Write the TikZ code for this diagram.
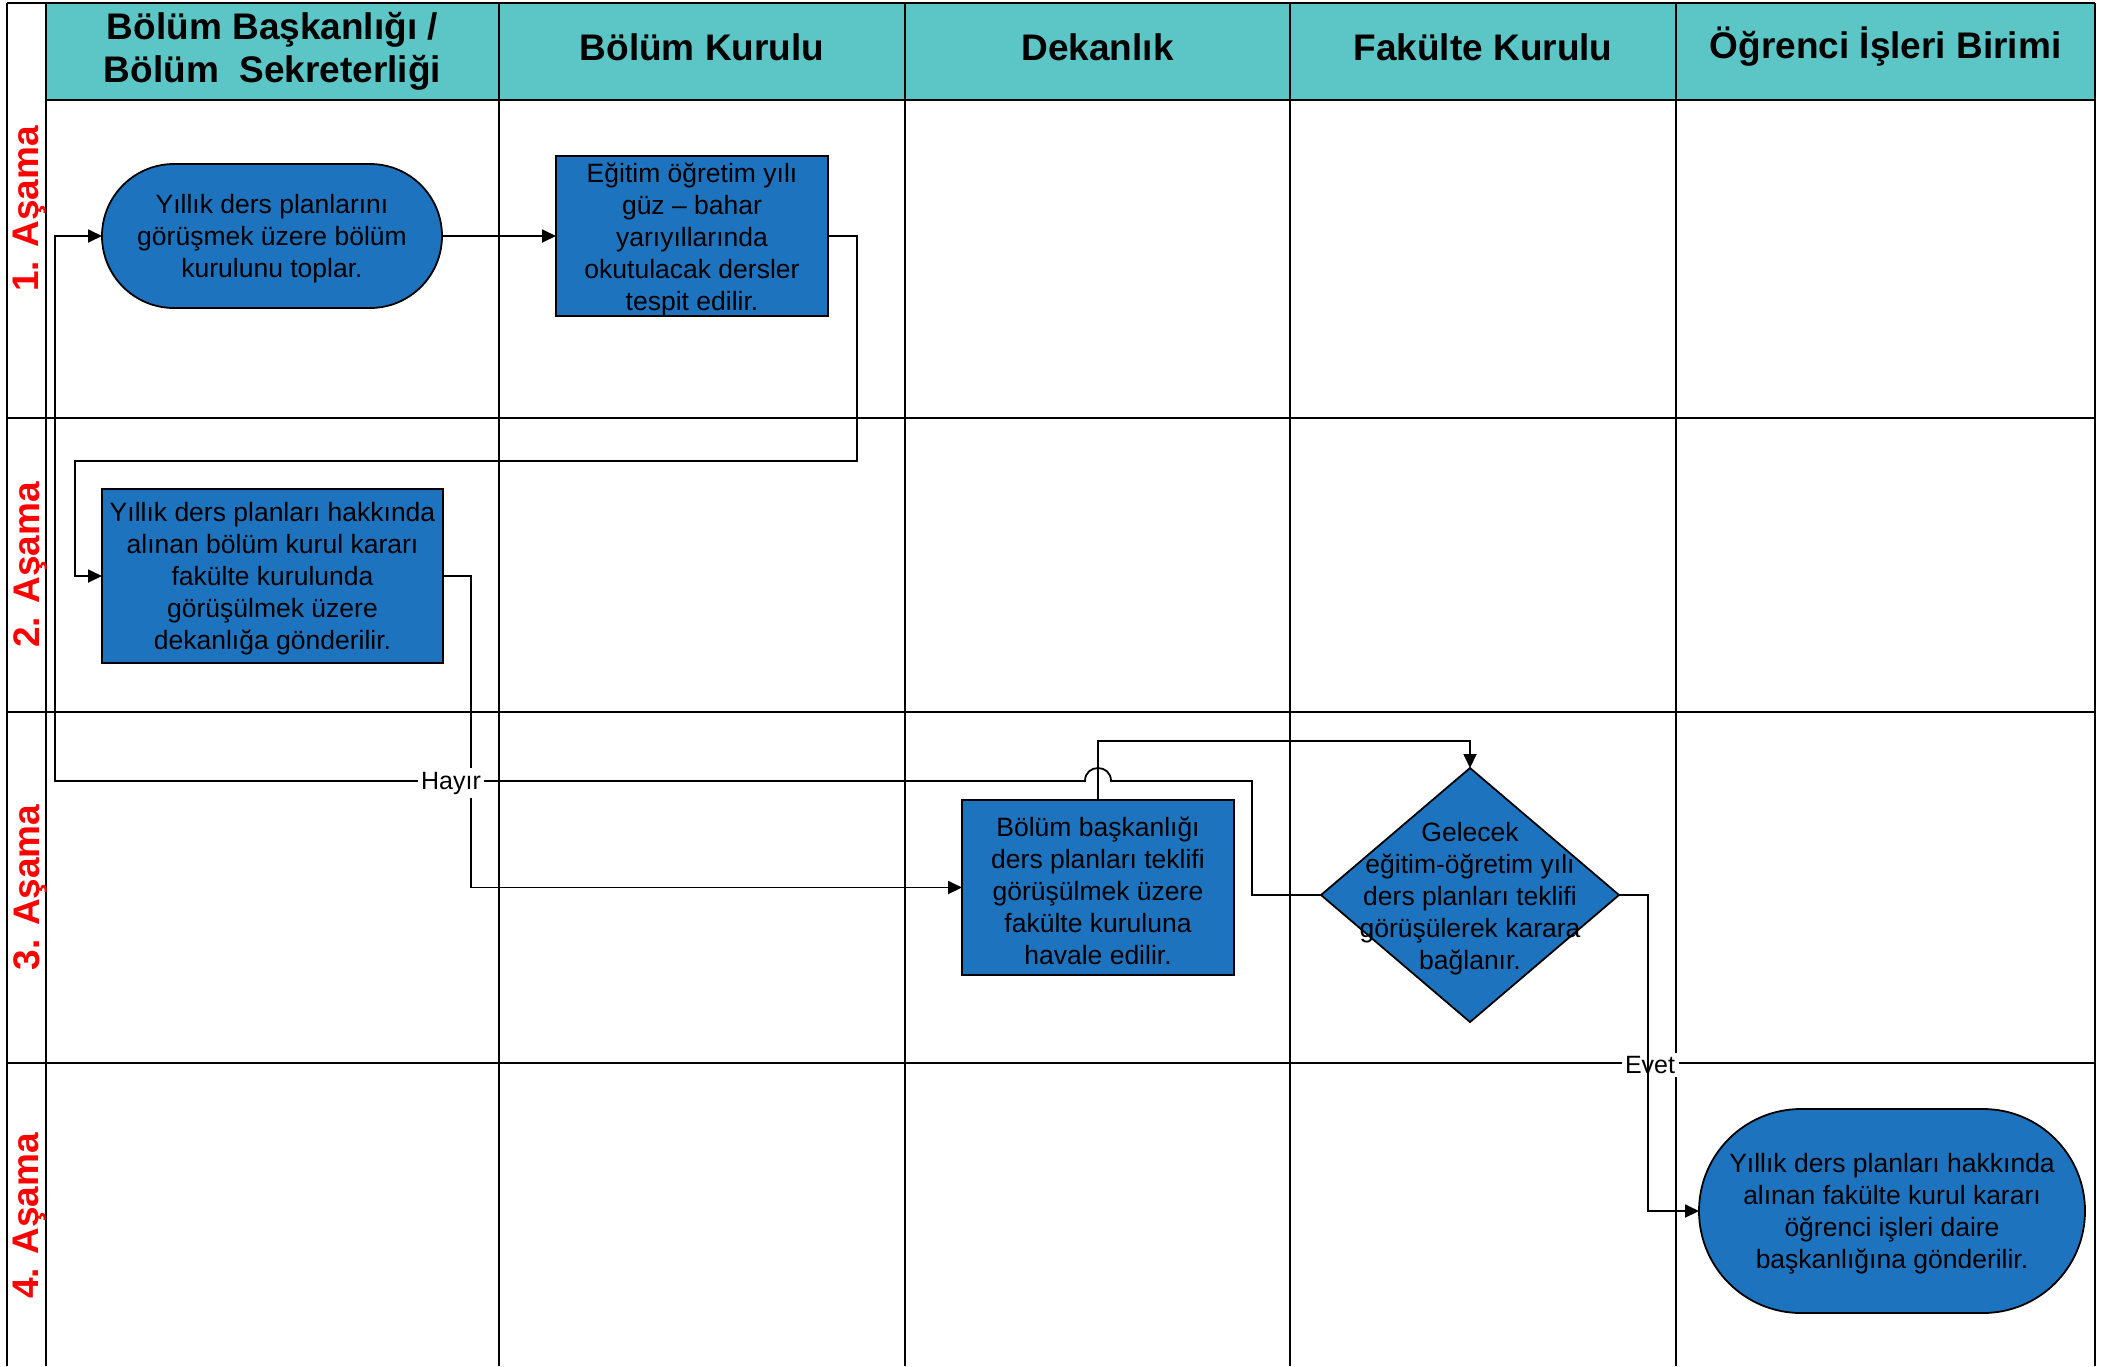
\documentclass[tikz,border=0pt]{standalone}
\usepackage{fontspec}
\setmainfont{Liberation Sans}
\usetikzlibrary{shapes.geometric,arrows.meta}

\definecolor{procblue}{RGB}{30,115,190}
\definecolor{headteal}{RGB}{92,197,198}
\definecolor{stagered}{RGB}{255,0,0}

\begin{document}
\begin{tikzpicture}[x=1pt,y=-1pt,
  gridline/.style={line width=2pt, black},
  head/.style={font=\bfseries\fontsize{37}{43}\selectfont, align=center},
  stage/.style={font=\bfseries\fontsize{37}{43}\selectfont, text=stagered, rotate=90},
  body/.style={font=\fontsize{26.5}{32}\selectfont, align=center},
  boxtext/.style={label={[body, yshift=-3pt]center:{#1}}},
  procbox/.style={draw=black, line width=1.8pt, fill=procblue, inner sep=0pt, outer sep=0pt},
  decision/.style={diamond, draw=black, line width=1.8pt, fill=procblue, inner sep=0pt, outer sep=0pt},
  conn/.style={line width=1.8pt, -{Triangle[length=14pt,width=13pt]}},
  flowlabel/.style={font=\fontsize{25}{30}\selectfont, fill=white, inner sep=3.5pt}
]
\useasboundingbox (0,0) rectangle (2111,1366);
\fill[white] (0,0) rectangle (2111,1366);

% header band
\fill[headteal] (46,3) rectangle (2095,100);

% swimlane grid
\draw[gridline] (7,3) -- (2095,3);
\draw[gridline] (46,100) -- (2095,100);
\foreach \yy in {418,712,1063} \draw[gridline] (7,\yy) -- (2095,\yy);
\foreach \xx in {7,46,499,905,1290,1676,2095} \draw[gridline] (\xx,3) -- (\xx,1366);

% column headers
\node[head] (h1) at (272.5,51.5) {Bölüm Başkanlığı /\\Bölüm\ \ Sekreterliği};
\node[head] (h2) at (702,47) {Bölüm Kurulu};
\node[head] (h3) at (1097.5,47) {Dekanlık};
\node[head] (h4) at (1483,47) {Fakülte Kurulu};
\node[head] (h5) at (1885.5,47) {Öğrenci İşleri Birimi};

% stage labels
\node[stage] (s1) at (30,209) {1. Aşama};
\node[stage] (s2) at (30,565) {2. Aşama};
\node[stage] (s3) at (30,887.5) {3. Aşama};
\node[stage] (s4) at (30,1216) {4. Aşama};

% process steps
\node[procbox, rounded corners=72pt, minimum width=340pt, minimum height=144pt,
  boxtext={Yıllık ders planlarını\\görüşmek üzere bölüm\\kurulunu toplar.}] (t1) at (272,236) {};
\node[procbox, minimum width=272pt, minimum height=160pt,
  boxtext={Eğitim öğretim yılı\\güz – bahar\\yarıyıllarında\\okutulacak dersler\\tespit edilir.}] (b2) at (692,236) {};
\node[procbox, minimum width=341pt, minimum height=174pt,
  boxtext={Yıllık ders planları hakkında\\alınan bölüm kurul kararı\\fakülte kurulunda\\görüşülmek üzere\\dekanlığa gönderilir.}] (b3) at (272.5,576) {};
\node[procbox, minimum width=272pt, minimum height=175pt,
  boxtext={Bölüm başkanlığı\\ders planları teklifi\\görüşülmek üzere\\fakülte kuruluna\\havale edilir.}] (b4) at (1098,887.5) {};
\node[decision, minimum width=298pt, minimum height=254pt] (d1) at (1470,895) {};
\node[body] (d1text) at (1470,899)
  {Gelecek\\eğitim-öğretim yılı\\ders planları teklifi\\görüşülerek karara\\bağlanır.};
\node[procbox, rounded corners=102pt, minimum width=386pt, minimum height=204pt,
  boxtext={Yıllık ders planları hakkında\\alınan fakülte kurul kararı\\öğrenci işleri daire\\başkanlığına gönderilir.}] (t4) at (1892,1211) {};

% label of the "yes" branch sits under its own connector
\node[flowlabel] (evet) at (1650,1065) {Evet};

% connectors
\draw[conn] (t1.east) -- (b2.west);
\draw[conn] (b2.east) -- (857,236) -- (857,461) -- (75,461) |- (b3.west);
\draw[conn] (b3.east) -| (471,887.5) -- (b4.west);
\draw[conn] (b4.north) |- (1470,741) -- (d1.north);
\draw[conn] (d1.west) -- (1252,895) -- (1252,781) -- (1111,781)
  .. controls (1111,763.7) and (1085,763.7) .. (1085,781) -- (55,781) |- (t1.west);
\draw[conn] (d1.east) -- (1648,895) |- (t4.west);

% label of the "no" branch
\node[flowlabel] (hayir) at (451,783) {Hayır};
\end{tikzpicture}
\end{document}
